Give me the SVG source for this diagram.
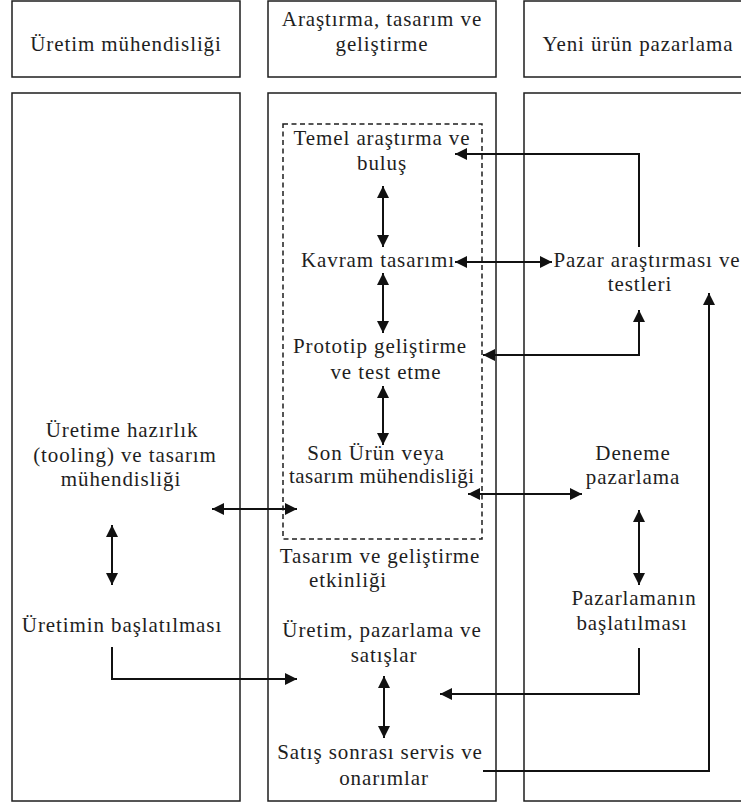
<svg xmlns="http://www.w3.org/2000/svg" width="741" height="806" viewBox="0 0 741 806">
  <style>
    .box { fill: #fff; stroke: #1e1e1e; stroke-width: 1.5; }
    .dash { fill: none; stroke: #1e1e1e; stroke-width: 1.5; stroke-dasharray: 5 3.5; }
    text { font-family: 'Liberation Serif', 'DejaVu Serif', 'Noto Serif', 'Times New Roman', serif; font-size: 21px; fill: #1e1e1e; letter-spacing: 0.9px; text-anchor: middle; }
    .c { fill: none; stroke: #111; stroke-width: 2; }
  </style>
  <defs>
    <marker id="ah" markerUnits="userSpaceOnUse" markerWidth="13" markerHeight="12" refX="12" refY="6" orient="auto-start-reverse" viewBox="0 0 13 12">
      <path d="M0,0 L12,6 L0,12 z" fill="#111"/>
    </marker>
  </defs>
  <rect width="741" height="806" fill="#fff"/>

  <!-- column frames -->
  <g id="headers">
    <rect class="box" x="12" y="1" width="228" height="76"/>
    <rect class="box" x="268" y="1" width="228" height="76"/>
    <rect class="box" x="524" y="1" width="240" height="76"/>
    <text x="126" y="51">Üretim mühendisliği</text>
    <text x="382" y="26">Araştırma, tasarım ve</text>
    <text x="382" y="51">geliştirme</text>
    <text x="638" y="51">Yeni ürün pazarlama</text>
  </g>
  <g id="columns">
    <rect class="box" x="12" y="93" width="228" height="708"/>
    <rect class="box" x="268" y="93" width="228" height="708"/>
    <rect class="box" x="524" y="93" width="240" height="708"/>
    <rect class="dash" x="283" y="124" width="199" height="415"/>
  </g>

  <!-- R&D column -->
  <g id="temel"><text x="382" y="145">Temel araştırma ve</text><text x="382" y="170">buluş</text></g>
  <g id="kavram"><text x="378" y="267">Kavram tasarımı</text></g>
  <g id="prototip"><text x="380" y="353">Prototip geliştirme</text><text x="386" y="379">ve test etme</text></g>
  <g id="sonurun"><text x="376" y="460">Son Ürün veya</text><text x="382" y="483" textLength="186" lengthAdjust="spacing">tasarım mühendisliği</text></g>
  <g id="etkinlik"><text x="380" y="563">Tasarım ve geliştirme</text><text x="348" y="587">etkinliği</text></g>
  <g id="uretim-satis"><text x="382" y="637">Üretim, pazarlama ve</text><text x="384" y="662">satışlar</text></g>
  <g id="servis"><text x="380" y="759">Satış sonrası servis ve</text><text x="384" y="785">onarımlar</text></g>

  <!-- production engineering column -->
  <g id="hazirlik"><text x="122" y="437">Üretime hazırlık</text><text x="125" y="462">(tooling) ve tasarım</text><text x="121" y="486">mühendisliği</text></g>
  <g id="uretimbaslat"><text x="122" y="632">Üretimin başlatılması</text></g>

  <!-- marketing column -->
  <g id="pazar"><text x="647" y="267">Pazar araştırması ve</text><text x="640" y="291">testleri</text></g>
  <g id="deneme"><text x="633" y="460">Deneme</text><text x="633" y="484">pazarlama</text></g>
  <g id="pazarbaslat"><text x="634" y="605">Pazarlamanın</text><text x="632" y="630">başlatılması</text></g>

  <!-- connectors -->
  <g id="connectors">
    <line class="c" x1="383" y1="186" x2="383" y2="247" marker-start="url(#ah)" marker-end="url(#ah)"/>
    <line class="c" x1="383" y1="273" x2="383" y2="333" marker-start="url(#ah)" marker-end="url(#ah)"/>
    <line class="c" x1="383" y1="386" x2="383" y2="445" marker-start="url(#ah)" marker-end="url(#ah)"/>
    <line class="c" x1="455" y1="262" x2="552" y2="262" marker-start="url(#ah)" marker-end="url(#ah)"/>
    <line class="c" x1="468" y1="494" x2="582" y2="494" marker-start="url(#ah)" marker-end="url(#ah)"/>
    <line class="c" x1="212" y1="509" x2="297" y2="509" marker-start="url(#ah)" marker-end="url(#ah)"/>
    <line class="c" x1="112" y1="525" x2="112" y2="585" marker-start="url(#ah)" marker-end="url(#ah)"/>
    <line class="c" x1="639" y1="510" x2="639" y2="585" marker-start="url(#ah)" marker-end="url(#ah)"/>
    <line class="c" x1="384" y1="676" x2="384" y2="738" marker-start="url(#ah)" marker-end="url(#ah)"/>
    <polyline class="c" points="639,247 639,154 455,154" marker-end="url(#ah)"/>
    <polyline class="c" points="483,355 639,355 639,310" marker-start="url(#ah)" marker-end="url(#ah)"/>
    <polyline class="c" points="112,647 112,679 297,679" marker-end="url(#ah)"/>
    <polyline class="c" points="639,648 639,694 440,694" marker-end="url(#ah)"/>
    <polyline class="c" points="483,771 709,771 709,293" marker-end="url(#ah)"/>
  </g>
</svg>
